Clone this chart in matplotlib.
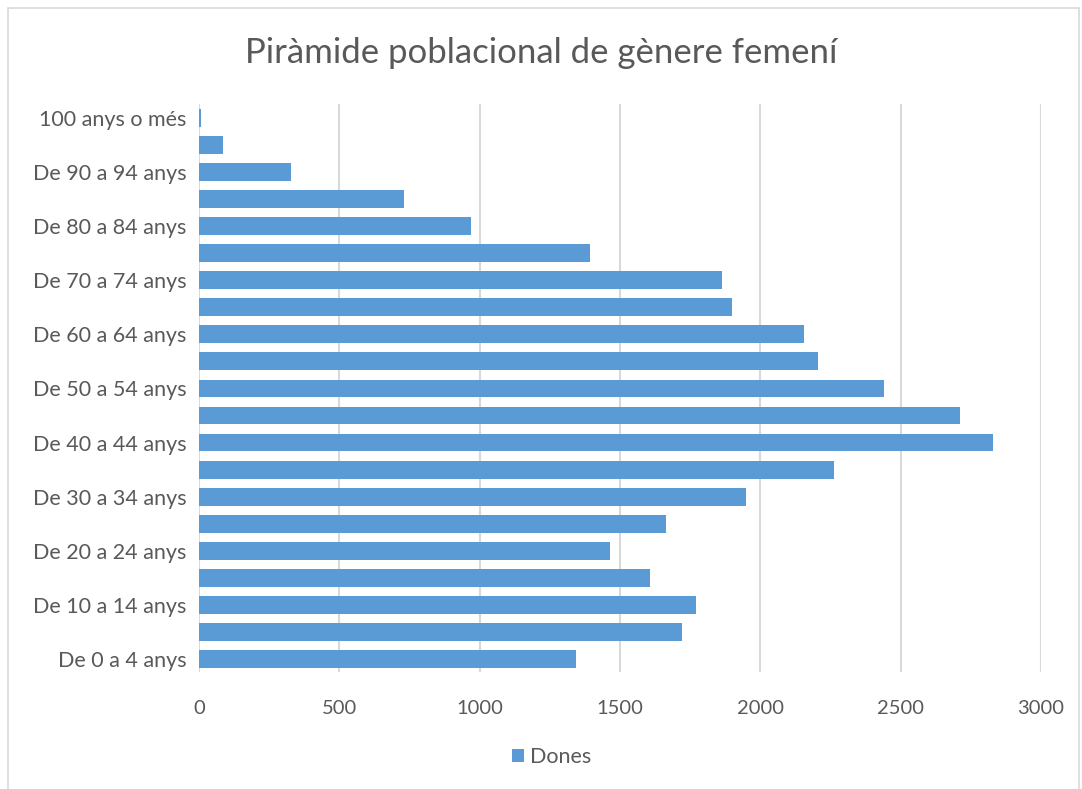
import matplotlib.pyplot as plt
from matplotlib.patches import Rectangle

# Dades: població femenina per grups d'edat (de petit a gran)
grups = ['De 0 a 4 anys', 'De 5 a 9 anys', 'De 10 a 14 anys', 'De 15 a 19 anys',
         'De 20 a 24 anys', 'De 25 a 29 anys', 'De 30 a 34 anys', 'De 35 a 39 anys',
         'De 40 a 44 anys', 'De 45 a 49 anys', 'De 50 a 54 anys', 'De 55 a 59 anys',
         'De 60 a 64 anys', 'De 65 a 69 anys', 'De 70 a 74 anys', 'De 75 a 79 anys',
         'De 80 a 84 anys', 'De 85 a 89 anys', 'De 90 a 94 anys', 'De 95 a 99 anys',
         '100 anys o més']
dones = [1344, 1722, 1771, 1607, 1466, 1664, 1949, 2262, 2830, 2710, 2440,
         2205, 2156, 1899, 1862, 1393, 968, 732, 328, 86, 7]
ticks_x = [0, 500, 1000, 1500, 2000, 2500, 3000]

gris = '#595959'
blau = '#5b9bd5'
plt.rcParams['font.family'] = ['Lato', 'DejaVu Sans']

fig = plt.figure(figsize=(10.82, 7.89), dpi=100)
ax = fig.add_axes([0.1839, 0.1477, 0.7782, 0.7199])

pos = list(range(len(grups)))
ax.barh(pos, dones, height=0.66, color=blau, label='Dones', zorder=3)

ax.set_xlim(0, 3000)
ax.set_ylim(-0.5, len(grups) - 0.5)
ax.set_xticks(ticks_x)
ax.set_xticklabels([str(t) for t in ticks_x])
ax.set_yticks(pos)
# només es mostra una etiqueta de cada dues
ax.set_yticklabels([g if i % 2 == 0 else '' for i, g in enumerate(grups)])
ax.tick_params(axis='both', length=0, colors=gris)
ax.tick_params(axis='y', pad=9, labelsize=15.5)
ax.tick_params(axis='x', pad=20, labelsize=14.5)
ax.grid(axis='x', color='#d9d9d9', linewidth=1.5, zorder=0)
for s in ax.spines.values():
    s.set_visible(False)

fig.text(0.5, 0.933, 'Piràmide poblacional de gènere femení', ha='center', va='center',
         fontsize=25, color=gris)

ax.legend(loc='center', bbox_to_anchor=(0.51, 0.041), bbox_transform=fig.transFigure,
          frameon=False, fontsize=15.5, labelcolor=gris, handlelength=0.55, handleheight=0.55,
          handletextpad=0.3)

# vora del gràfic
fig.patches.append(Rectangle((0.007, -0.02), 0.99, 1.01, transform=fig.transFigure,
                             fill=False, edgecolor='#d9d9d9', linewidth=1.2))

fig.savefig('out.png', dpi=100)
